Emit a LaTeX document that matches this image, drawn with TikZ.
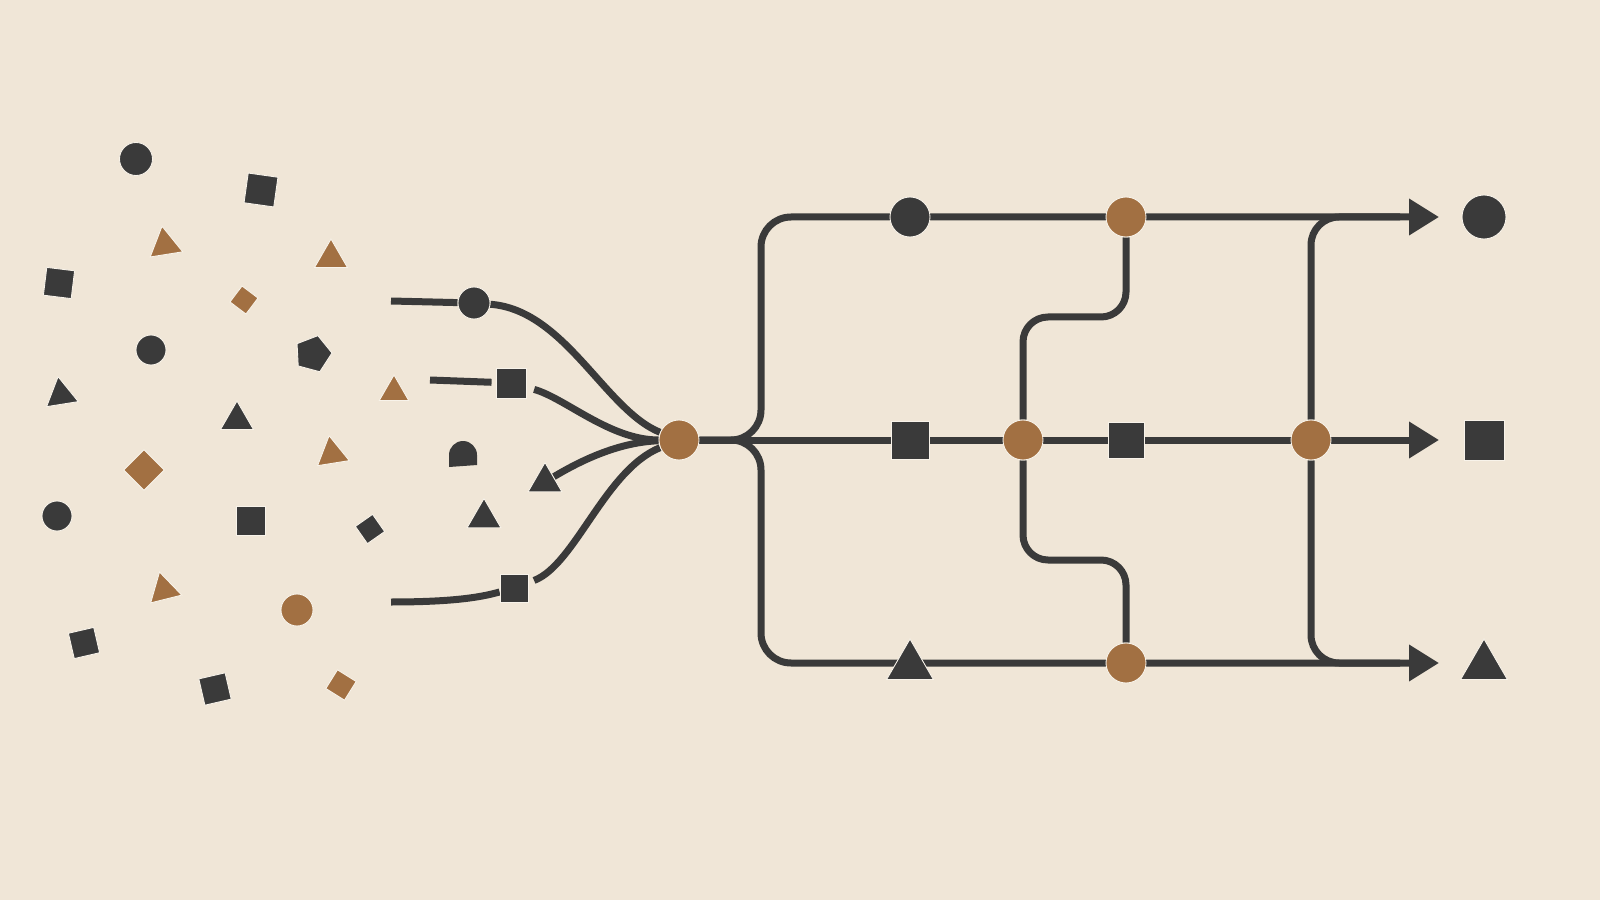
\documentclass[tikz,border=0pt]{standalone}
\usepackage{tikz}
\usetikzlibrary{positioning, shapes.geometric, arrows.meta}
\definecolor{paper}{RGB}{240,230,215}
\definecolor{ink}{RGB}{58,58,58}
\definecolor{rust}{RGB}{162,112,66}
\definecolor{halo}{RGB}{248,243,234}
\pgfdeclarelayer{paperlayer}
\pgfdeclarelayer{wirelayer}
\pgfsetlayers{paperlayer,wirelayer,main}
\tikzset{node distance=22.3mm,
  wire/.style={draw=ink, line width=0.7mm},
  darkdot/.style={circle, fill=ink, draw=halo, line width=0.25pt, inner sep=0pt},
  rustdot/.style={circle, fill=rust, draw=halo, line width=0.25pt, inner sep=0pt, minimum size=4mm},
  darkbox/.style={rectangle, fill=ink, draw=halo, line width=0.25pt, inner sep=0pt},
  rustbox/.style={rectangle, fill=rust, draw=halo, line width=0.25pt, inner sep=0pt},
  darktri/.style={regular polygon, regular polygon sides=3, fill=ink, draw=halo, line width=0.25pt, inner sep=0pt},
  rusttri/.style={regular polygon, regular polygon sides=3, fill=rust, draw=halo, line width=0.25pt, inner sep=0pt},
  darkpent/.style={regular polygon, regular polygon sides=5, fill=ink, draw=halo, line width=0.25pt, inner sep=0pt},
  outtip/.style={-{Triangle[length=3mm, width=3.5mm]}}}

\begin{document}
\begin{tikzpicture}[x=0.1mm, y=-0.1mm]

    \begin{pgfonlayer}{paperlayer}
      \fill[paper] (0,0) rectangle (1600,900);
    \end{pgfonlayer}
    \useasboundingbox (0,0) rectangle (1600,900);

              % loose pieces
              \node (p1)  [darkdot, minimum size=3.3mm] at (136,159) {};
              \node (p2)  [darkbox, minimum size=3mm, rotate=-8] at (261,190) {};
              \node (p3)  [rusttri, minimum size=3.8mm, rotate=9] at (165,245) {};
              \node (p4)  [rusttri, minimum size=3.8mm] at (331,258) {};
              \node (p5)  [darkbox, minimum size=2.8mm, rotate=-7] at (59,283) {};
              \node (p6)  [rustbox, minimum size=2mm, rotate=-37] at (244,300) {};
              \node (p7)  [darkdot, minimum size=3mm] at (151,350) {};
              \node (p8)  [darkpent, minimum size=3.8mm, rotate=-15] at (313,354) {};
              \node (p9)  [rusttri, minimum size=3.4mm] at (394,392) {};
              \node (p10) [darktri, minimum size=3.7mm, rotate=9] at (61,395) {};
              \node (p11) [darktri, minimum size=3.8mm] at (237,420) {};
              \node (p12) [rusttri, minimum size=3.7mm, rotate=9] at (332,454) {};
              \node (p13) [rustbox, minimum size=2.85mm, rotate=45] at (144,470) {};
              \node (p14) [darkdot, minimum size=3mm] at (57,516) {};
              \node (p15) [darkbox, minimum size=2.9mm] at (251,521) {};
              \node (p16) [darkbox, minimum size=2.1mm, rotate=35] at (370,529) {};
              \node (p17) [rusttri, minimum size=3.7mm, rotate=14] at (164,590) {};
              \node (p18) [rustdot, minimum size=3.2mm] at (297,610) {};
              \node (p19) [darkbox, minimum size=2.6mm, rotate=13] at (84,643) {};
              \node (p20) [darkbox, minimum size=2.7mm, rotate=13] at (215,689) {};
              \node (p21) [rustbox, minimum size=2.2mm, rotate=-32] at (341,685) {};
              \node (p22) [darktri, minimum size=3.9mm] at (484,518) {};
              \fill[ink] (449,467) -- (449,455) .. controls (449,447.3) and (455.3,441) .. (463,441)
                   .. controls (470.7,441) and (477,447.3) .. (477,455) -- (477,465) -- cycle;

              % inputs
              \coordinate (in1) at (391,301);
              \coordinate (in2) at (430,380);
              \coordinate (in4) at (391,602);
              \node (inC) [darkdot, minimum size=3.2mm] at (474,303) {};
              \node (inS) [darkbox, minimum size=3mm] at (511,383) {};
              \node (inT) [darktri, minimum size=3.9mm] at (545,482) {};
              \node (inQ) [darkbox, minimum size=2.8mm] at (514,588) {};
              \node (hub) [rustdot] at (679,440) {};

              % network
              \node (sqA)  [darkbox, minimum size=3.8mm] at (910,440) {};
              \node (dotA) [darkdot, minimum size=4mm, above of=sqA] {};
              \node (triA) [darktri, minimum size=5.4mm, below of=sqA, yshift=-0.3mm] {};
              \node (midB) [rustdot] at (1023,440) {};
              \node (sqB)  [darkbox, minimum size=3.6mm] at (1126,440) {};
              \node (topB) [rustdot, above of=sqB] {};
              \node (botB) [rustdot, below of=sqB] {};
              \node (rgtB) [rustdot] at (1311,440) {};
              \coordinate (endT) at (1439,217);
              \coordinate (endM) at (1439,440);
              \coordinate (endB) at (1439,663);

              % outputs
              \node (outS) [darkbox, minimum size=4mm] at (1484,440) {};
              \node (outC) [darkdot, minimum size=4.4mm, above of=outS] {};
              \node (outT) [darktri, minimum size=5.4mm, below of=outS, yshift=-0.3mm] {};

    \begin{pgfonlayer}{wirelayer}
              \draw [wire] (in1) -- (inC);
              \draw [wire] (inC) .. controls (565,310) and (605,410) .. (hub);
              \draw [wire, shorten >=0.4mm] (in2) -- (inS);
              \draw [wire, shorten <=0.8mm] (inS) .. controls (565,398) and (610,440) .. (hub);
              \draw [wire] (hub) .. controls (625,442) and (590,455) .. (inT);
              \draw [wire] (in4) .. controls (460,602) and (485,596) .. (inQ);
              \draw [wire, shorten <=0.6mm] (inQ) .. controls (575,565) and (605,470) .. (hub);

              \draw [wire, outtip, rounded corners=3mm] (hub) -- (761,440) -- (761,217) -- (endT);
              \draw [wire, outtip] (hub) -- (endM);
              \draw [wire, outtip, rounded corners=3mm] (hub) -- (761,440) -- (761,663) -- (endB);
              \draw [wire, rounded corners=2.5mm] (topB) -- (1126,317) -- (1023,317) -- (midB);
              \draw [wire, rounded corners=2.5mm] (midB) -- (1023,560) -- (1126,560) -- (botB);
              \draw [wire, rounded corners=2.8mm] (rgtB) -- (1311,217) -- (1400,217);
              \draw [wire, rounded corners=2.8mm] (rgtB) -- (1311,663) -- (1400,663);
    \end{pgfonlayer}
            \end{tikzpicture}
\end{document}
